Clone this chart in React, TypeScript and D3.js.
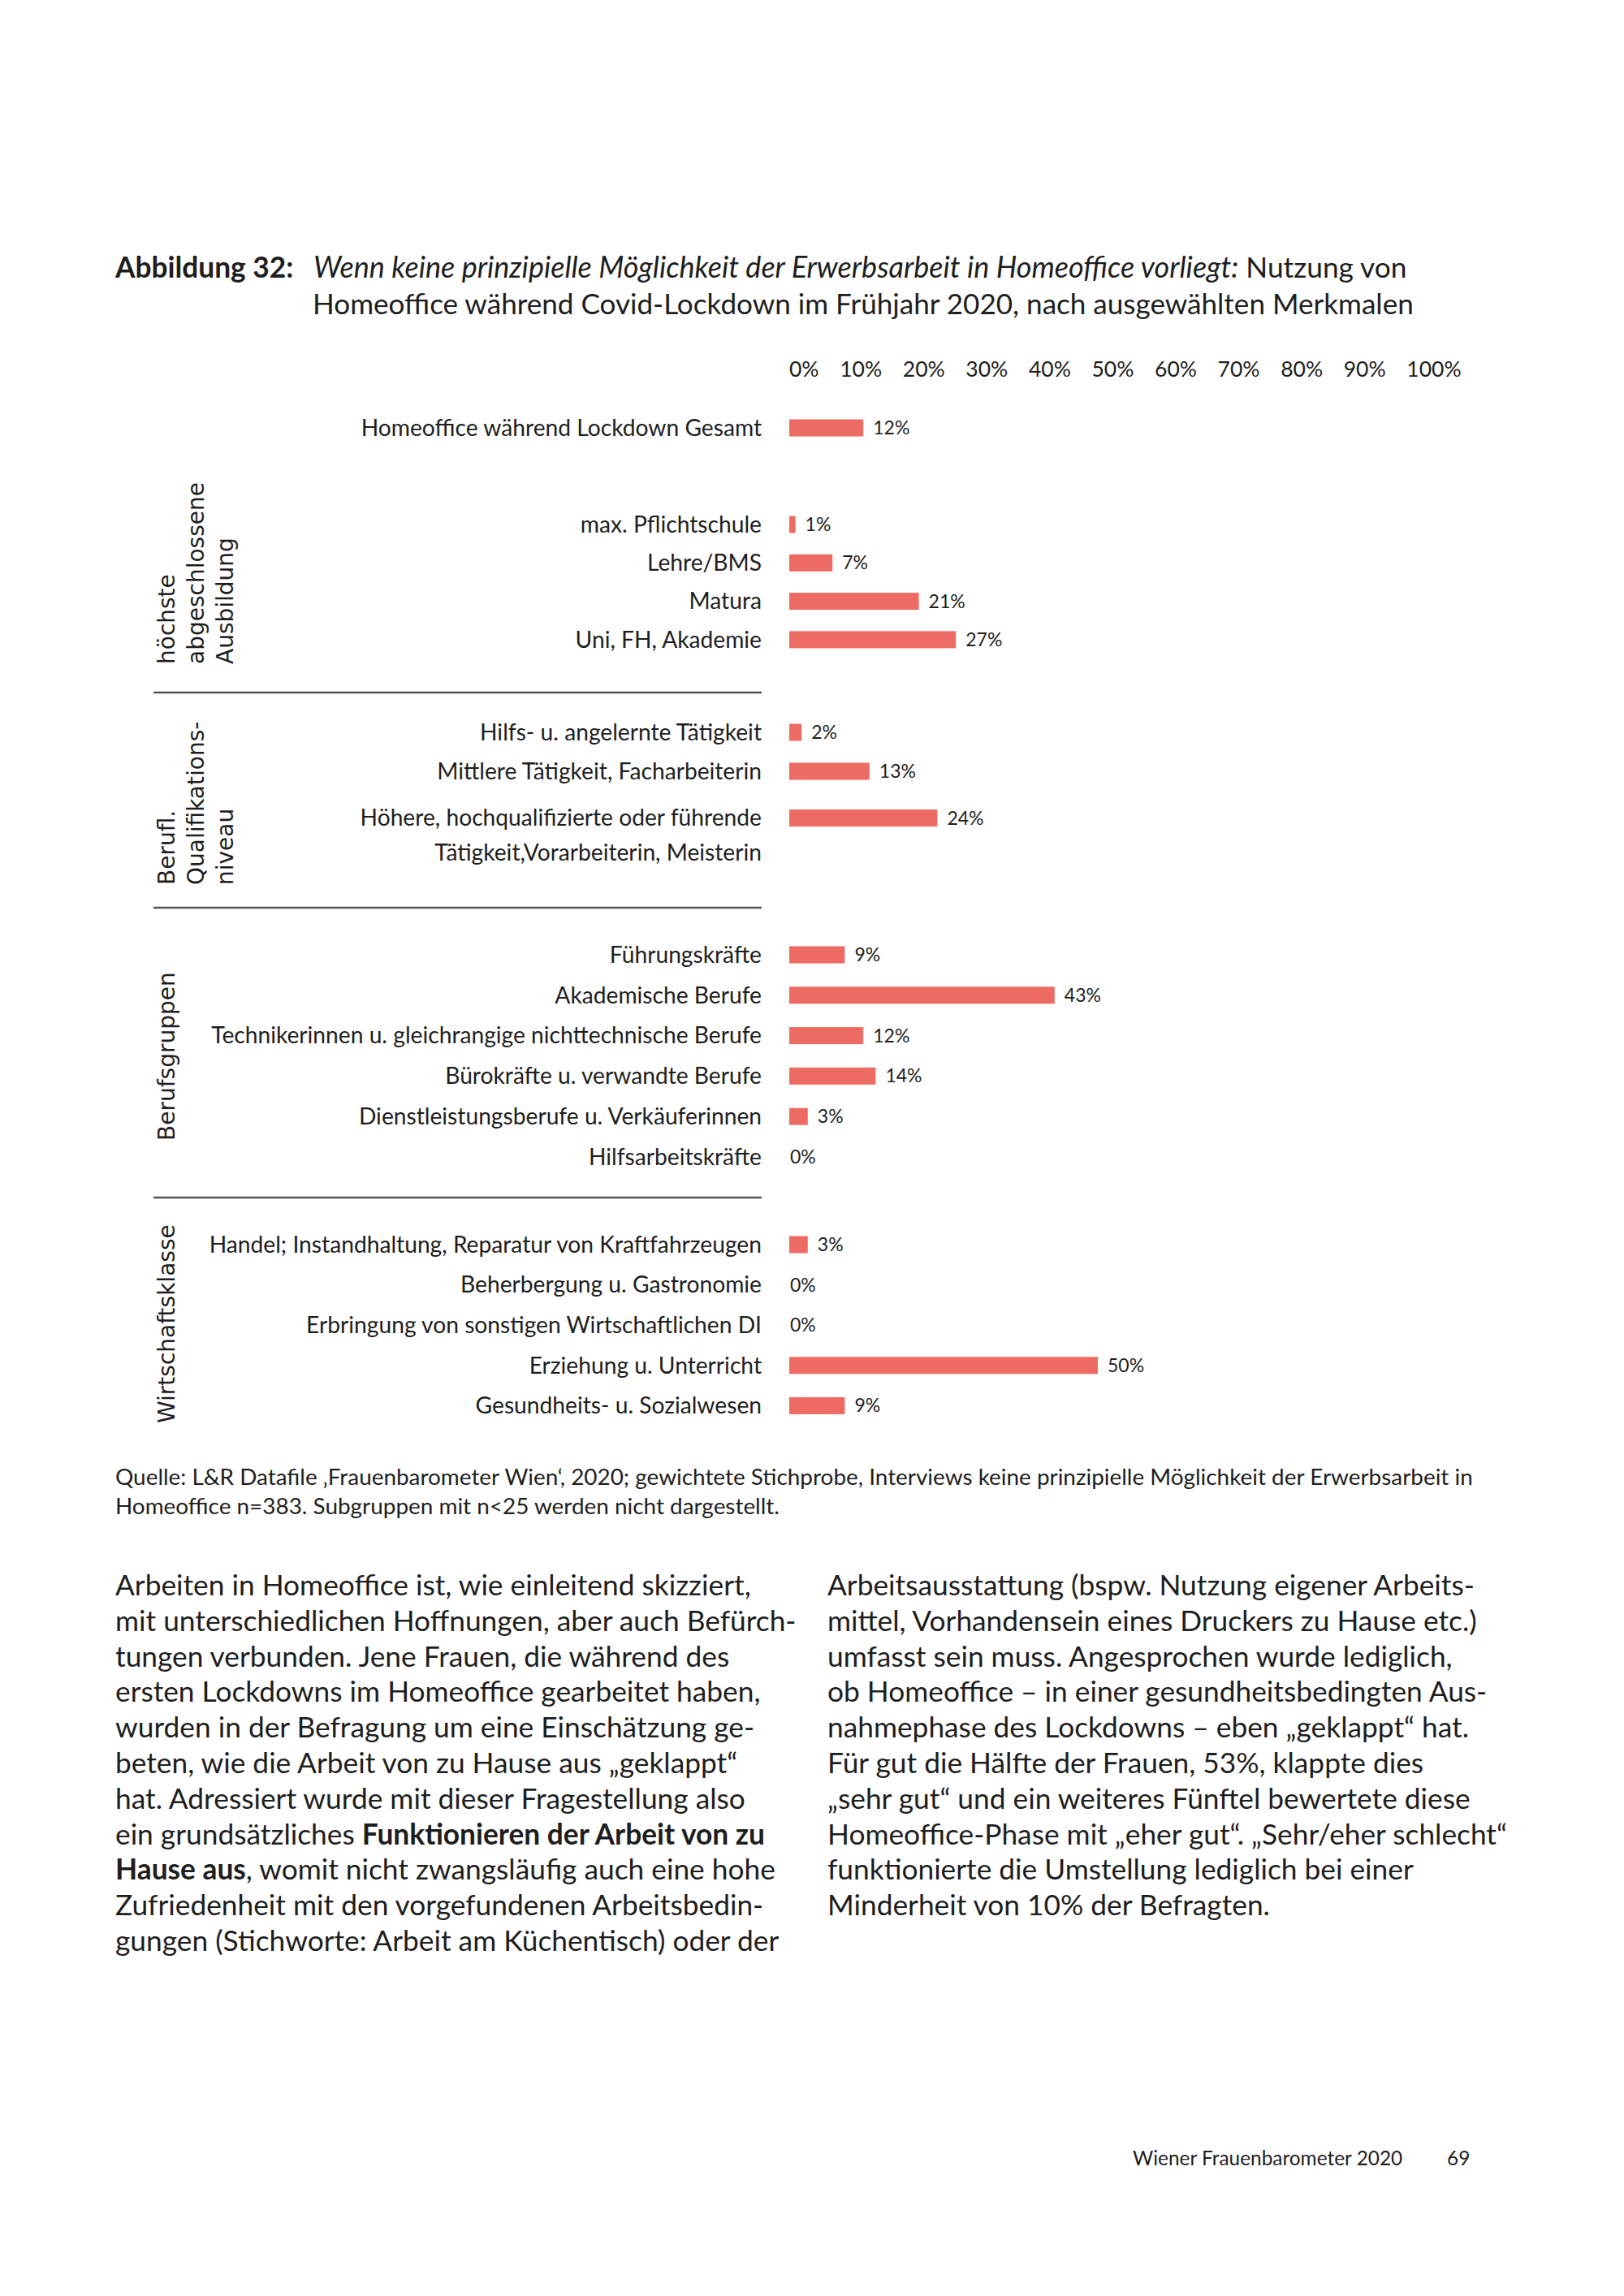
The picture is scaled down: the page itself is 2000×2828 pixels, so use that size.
import React from 'react';
import * as d3 from 'd3';

// chart values
const tickValues = [0, 10, 20, 30, 40, 50, 60, 70, 80, 90, 100];

const gesamtLabels = ['Homeoffice während Lockdown Gesamt'];
const gesamtValues = [12];

const bildungLabels = ['max. Pflichtschule', 'Lehre/BMS', 'Matura', 'Uni, FH, Akademie'];
const bildungValues = [1, 7, 21, 27];

const qualiLabels = [
  'Hilfs- u. angelernte Tätigkeit',
  'Mittlere Tätigkeit, Facharbeiterin',
  'Höhere, hochqualifizierte oder führende|Tätigkeit,Vorarbeiterin, Meisterin',
];
const qualiValues = [2, 13, 24];

const berufLabels = [
  'Führungskräfte',
  'Akademische Berufe',
  'Technikerinnen u. gleichrangige nichttechnische Berufe',
  'Bürokräfte u. verwandte Berufe',
  'Dienstleistungsberufe u. Verkäuferinnen',
  'Hilfsarbeitskräfte',
];
const berufValues = [9, 43, 12, 14, 3, 0];

const wirtschaftLabels = [
  'Handel; Instandhaltung, Reparatur von Kraftfahrzeugen',
  'Beherbergung u. Gastronomie',
  'Erbringung von sonstigen Wirtschaftlichen DI',
  'Erziehung u. Unterricht',
  'Gesundheits- u. Sozialwesen',
];
const wirtschaftValues = [3, 0, 0, 50, 9];

const groupTitles = [
  ['höchste', 'abgeschlossene', 'Ausbildung'],
  ['Berufl.', 'Qualifikations-', 'niveau'],
  ['Berufsgruppen'],
  ['Wirtschaftsklasse'],
];

const sourceLines = [
  'Quelle: L&R Datafile ‚Frauenbarometer Wien‘, 2020; gewichtete Stichprobe, Interviews keine prinzipielle Möglichkeit der Erwerbsarbeit in',
  'Homeoffice n=383. Subgruppen mit n<25 werden nicht dargestellt.',
];

const leftColumn = [
  'Arbeiten in Homeoffice ist, wie einleitend skizziert,',
  'mit unterschiedlichen Hoffnungen, aber auch Befürch-',
  'tungen verbunden. Jene Frauen, die während des',
  'ersten Lockdowns im Homeoffice gearbeitet haben,',
  'wurden in der Befragung um eine Einschätzung ge-',
  'beten, wie die Arbeit von zu Hause aus „geklappt“',
  'hat. Adressiert wurde mit dieser Fragestellung also',
  'ein grundsätzliches **Funktionieren der Arbeit von zu**',
  '**Hause aus**, womit nicht zwangsläufig auch eine hohe',
  'Zufriedenheit mit den vorgefundenen Arbeitsbedin-',
  'gungen (Stichworte: Arbeit am Küchentisch) oder der',
];

const rightColumn = [
  'Arbeitsausstattung (bspw. Nutzung eigener Arbeits-',
  'mittel, Vorhandensein eines Druckers zu Hause etc.)',
  'umfasst sein muss. Angesprochen wurde lediglich,',
  'ob Homeoffice – in einer gesundheitsbedingten Aus-',
  'nahmephase des Lockdowns – eben „geklappt“ hat.',
  'Für gut die Hälfte der Frauen, 53%, klappte dies',
  '„sehr gut“ und ein weiteres Fünftel bewertete diese',
  'Homeoffice-Phase mit „eher gut“. „Sehr/eher schlecht“',
  'funktionierte die Umstellung lediglich bei einer',
  'Minderheit von 10% der Befragten.',
];

const W = 2000;
const H = 2828;
const BAR = '#ee6b63';
const INK = '#1e1e1e';
const FONT = 'Lato, "Open Sans", sans-serif';
const GROUP_FONT = '"DejaVu Sans", Verdana, sans-serif';

const labelRight = 938;
const barH = 21;

const x = d3.scaleLinear().domain([0, 100]).range([972, 1732]);

// rows sit on a slot grid; a two-line label pushes its row down a little
const rowY = (labels: string[], first: number, step: number) => {
  const slot = d3.scaleLinear().domain([0, 1]).range([first, first + step]);
  let extra = 0;
  return labels.map((l, i) => {
    extra += (l.split('|').length - 1) * 0.2;
    return slot(i + extra);
  });
};

const sections = [
  { labels: gesamtLabels, values: gesamtValues, y: rowY(gesamtLabels, 527, 48) },
  { labels: bildungLabels, values: bildungValues, y: rowY(bildungLabels, 646, 47.3) },
  { labels: qualiLabels, values: qualiValues, y: rowY(qualiLabels, 902, 48) },
  { labels: berufLabels, values: berufValues, y: rowY(berufLabels, 1176, 49.8) },
  { labels: wirtschaftLabels, values: wirtschaftValues, y: rowY(wirtschaftLabels, 1533, 49.6) },
];

// bottom edge of the rotated group titles, and separator rows
const groupBottoms = [818, 1090, 1405, 1753];
const separators = [853, 1118, 1475];

function richLine(line: string) {
  return line.split('**').map((part, i) => (
    <tspan key={i} fontWeight={i % 2 === 1 ? 700 : 400}>{part}</tspan>
  ));
}

export default function App() {
  return (
    <div>
      <style>{'body{margin:0;background:#fff}'}</style>
      <svg width={W} height={H} style={{ display: 'block' }} fontFamily={FONT} fill={INK}>
        <rect width={W} height={H} fill="#fff" />

        {/* title */}
        <text x={142} y={342} fontSize={35.3}>
          <tspan fontWeight={700}>Abbildung 32:</tspan>
          <tspan x={386} fontStyle="italic" fontSize={36}>Wenn keine prinzipielle Möglichkeit der Erwerbsarbeit in Homeoffice vorliegt:</tspan>
          <tspan> Nutzung von</tspan>
        </text>
        <text x={385} y={387} fontSize={35.1}>
          Homeoffice während Covid-Lockdown im Frühjahr 2020, nach ausgewählten Merkmalen
        </text>

        {/* header row: the percent labels are set as one spaced text run */}
        <text x={x(0)} y={464} fontSize={26.5} wordSpacing={18.8}>
          {tickValues.map(t => `${t}%`).join(' ')}
        </text>

        {/* rows */}
        {sections.map((s, si) => (
          <g key={si}>
            {s.values.map((v, i) => {
              const cy = s.y[i];
              const lines = s.labels[i].split('|');
              return (
                <g key={i}>
                  <text x={labelRight} y={cy} fontSize={28.2} textAnchor="end">
                    {lines.map((l, li) => (
                      <tspan key={li} x={labelRight} dy={li === 0 ? '0.35em' : 43}>{l}</tspan>
                    ))}
                  </text>
                  {v > 0 && (
                    <rect x={x(0)} y={cy - barH / 2} width={x(v) - x(0)} height={barH} fill={BAR} />
                  )}
                  <text x={x(v) + (v > 0 ? 12 : 1)} y={cy} dy="0.35em" fontSize={23}>{v}%</text>
                </g>
              );
            })}
          </g>
        ))}

        {/* separators */}
        {separators.map(y => (
          <line key={y} x1={189} x2={938} y1={y} y2={y} stroke="#555" strokeWidth={2.5} />
        ))}

        {/* rotated group titles */}
        {groupTitles.map((lines, gi) => (
          <text
            key={gi}
            transform={`translate(0,${groupBottoms[gi]}) rotate(-90)`}
            fontFamily={GROUP_FONT}
            fontSize={28}
          >
            {lines.map((l, li) => (
              <tspan key={li} x={0} y={215 + li * 36}>{l}</tspan>
            ))}
          </text>
        ))}

        {/* source */}
        <g fontSize={27.9}>
          {sourceLines.map((l, i) => (
            <text key={i} x={142} y={1829 + i * 36}>{l}</text>
          ))}
        </g>

        {/* body text */}
        <g fontSize={35.3}>
          {leftColumn.map((l, i) => (
            <text key={i} x={142} y={1965 + i * 43.8}>{richLine(l)}</text>
          ))}
          {rightColumn.map((l, i) => (
            <text key={i} x={1019} y={1965 + i * 43.8}>{richLine(l)}</text>
          ))}
        </g>

        {/* footer */}
        <g fontSize={24.4}>
          <text x={1395} y={2667}>Wiener Frauenbarometer 2020</text>
          <text x={1782} y={2667}>69</text>
        </g>
      </svg>
    </div>
  );
}
